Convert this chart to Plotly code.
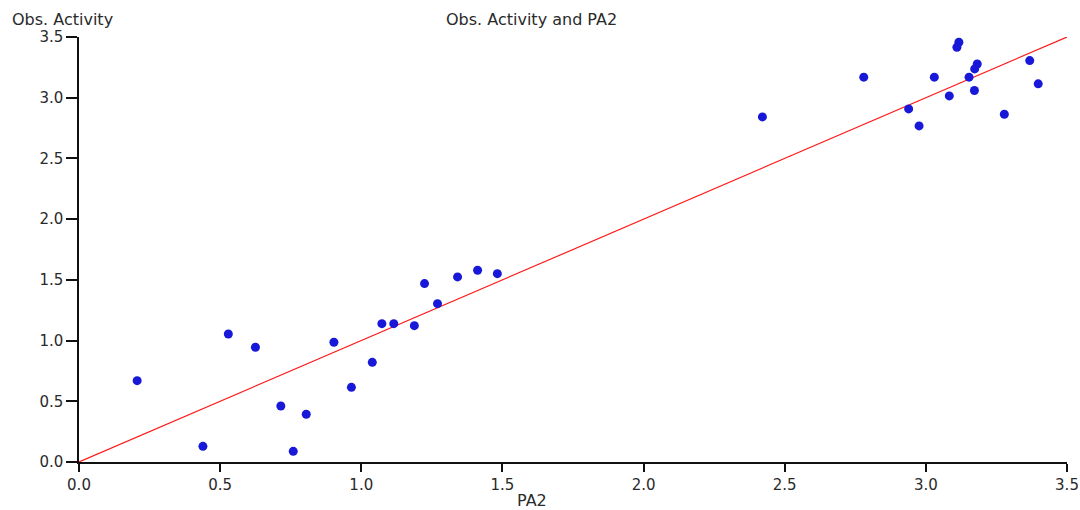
import plotly.graph_objects as go

pa2 = [0.206, 0.439, 0.529, 0.625, 0.715, 0.759, 0.805, 0.903, 0.965, 1.039,
       1.073, 1.115, 1.188, 1.224, 1.270, 1.341, 1.412, 1.482, 2.421,
       2.780, 3.030, 3.117, 3.110, 3.182, 3.173, 3.153, 3.172, 3.083,
       2.939, 2.976, 3.278, 3.368, 3.398]
obs_activity = [0.670, 0.129, 1.054, 0.945, 0.461, 0.088, 0.393, 0.986, 0.615, 0.821,
                1.139, 1.139, 1.123, 1.469, 1.304, 1.524, 1.579, 1.551, 2.842,
                3.169, 3.169, 3.457, 3.416, 3.278, 3.237, 3.169, 3.059, 3.015,
                2.908, 2.768, 2.864, 3.306, 3.114]

# identity reference line
line_x = [0.0, 3.5]
line_y = [0.0, 3.5]

tick_vals = [0.0, 0.5, 1.0, 1.5, 2.0, 2.5, 3.0, 3.5]
tick_text = ["0.0", "0.5", "1.0", "1.5", "2.0", "2.5", "3.0", "3.5"]

FONT = "DejaVu Sans"
TXT = "#2a2a2a"

fig = go.Figure()
fig.add_trace(go.Scatter(x=line_x, y=line_y, mode="lines",
                         line=dict(color="#ff1a1a", width=1.2),
                         hoverinfo="skip", showlegend=False))
fig.add_trace(go.Scatter(x=pa2, y=obs_activity, mode="markers",
                         marker=dict(color="#1818d8", size=9, symbol="circle",
                                     line=dict(width=0)),
                         showlegend=False))

axis_common = dict(
    range=[0, 3.5], tickvals=tick_vals, ticktext=tick_text,
    showgrid=False, zeroline=False, showline=True, linecolor="#111",
    linewidth=1.5, ticks="outside", tickcolor="#111", tickwidth=1.5,
    tickfont=dict(family=FONT, size=15, color=TXT), automargin=False,
)

fig.update_layout(
    width=1080, height=510,
    margin=dict(l=79, r=13, t=37, b=48),
    paper_bgcolor="white", plot_bgcolor="white",
    xaxis=dict(**axis_common, ticklen=8),
    yaxis=dict(**axis_common, ticklen=11),
    annotations=[
        dict(text="Obs. Activity and PA2", xref="paper", yref="paper",
             x=(531 - 79) / (1067 - 79), y=1 + 17 / 425, xanchor="center",
             yanchor="middle", showarrow=False,
             font=dict(family=FONT, size=16, color=TXT)),
        dict(text="Obs. Activity", xref="paper", yref="paper",
             x=-69 / (1067 - 79), y=1 + 17 / 425, xanchor="left",
             yanchor="middle", showarrow=False,
             font=dict(family=FONT, size=16, color=TXT)),
        dict(text="PA2", xref="paper", yref="paper",
             x=(532 - 79) / (1067 - 79), y=-38 / 425, xanchor="center",
             yanchor="middle", showarrow=False,
             font=dict(family=FONT, size=16, color=TXT)),
    ],
)

fig.write_html("out.html")
